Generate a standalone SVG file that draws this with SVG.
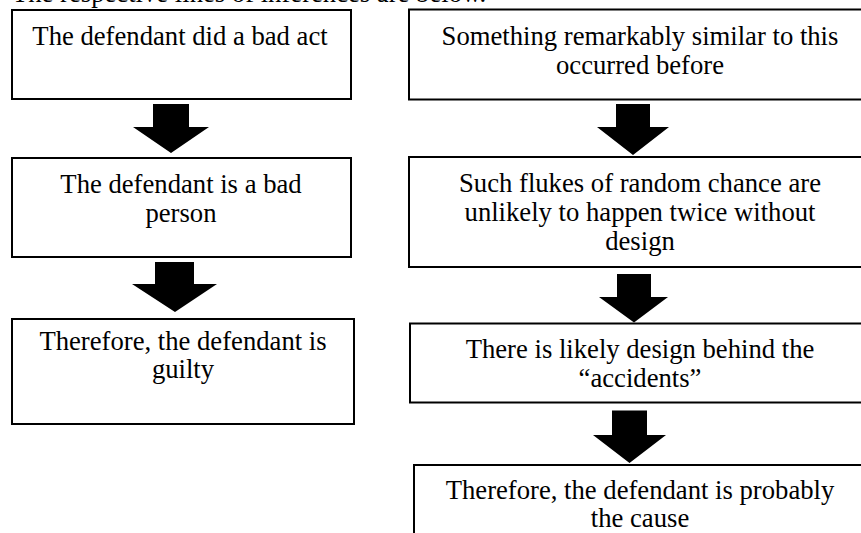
<svg xmlns="http://www.w3.org/2000/svg" width="861" height="533" viewBox="0 0 861 533">
<style>
.box{fill:#fff;stroke:#000;stroke-width:2}
text{font-family:"Liberation Serif","Times New Roman",serif;font-size:26.67px;fill:#000}
.c{text-anchor:middle}
.arr{fill:#000}
</style>
<rect width="861" height="533" fill="#fff"/>
<text x="12" y="2">The respective lines of inferences are below.</text>
<g id="L1"><rect class="box" x="12" y="10" width="339" height="89"/><text class="c" x="180" y="45">The defendant did a bad act</text></g>
<g id="L2"><rect class="box" x="12" y="158" width="339" height="99"/><text class="c" x="181" y="193">The defendant is a bad</text><text class="c" x="181" y="222">person</text></g>
<g id="L3"><rect class="box" x="12" y="319" width="342" height="105"/><text class="c" x="183" y="350">Therefore, the defendant is</text><text class="c" x="183" y="378">guilty</text></g>
<g id="R1"><rect class="box" x="409" y="9.5" width="462" height="90"/><text class="c" x="640" y="45">Something remarkably similar to this</text><text class="c" x="640" y="74">occurred before</text></g>
<g id="R2"><rect class="box" x="409" y="157" width="462" height="110"/><text class="c" x="640" y="192">Such flukes of random chance are</text><text class="c" x="640" y="221">unlikely to happen twice without</text><text class="c" x="640" y="250">design</text></g>
<g id="R3"><rect class="box" x="410" y="323.5" width="462" height="79"/><text class="c" x="640" y="358">There is likely design behind the</text><text class="c" x="640" y="387">“accidents”</text></g>
<g id="R4"><rect class="box" x="414" y="465" width="462" height="90"/><text class="c" x="640" y="499">Therefore, the defendant is probably</text><text class="c" x="640" y="527">the cause</text></g>
<g id="connectors">
<polygon class="arr" points="153,104 189,104 189,127 209,127 171,153 133,127 153,127"/>
<polygon class="arr" points="155,262 194,262 194,284 217,284 175,312 132,284 155,284"/>
<polygon class="arr" points="616,104 650,104 650,127 669,127 633,155 597,127 616,127"/>
<polygon class="arr" points="617,274 651,274 651,297 668,297 634,322.5 599,297 617,297"/>
<polygon class="arr" points="612,410.5 647,410.5 647,435 666,435 629.5,463 593,435 612,435"/>
</g>
</svg>
